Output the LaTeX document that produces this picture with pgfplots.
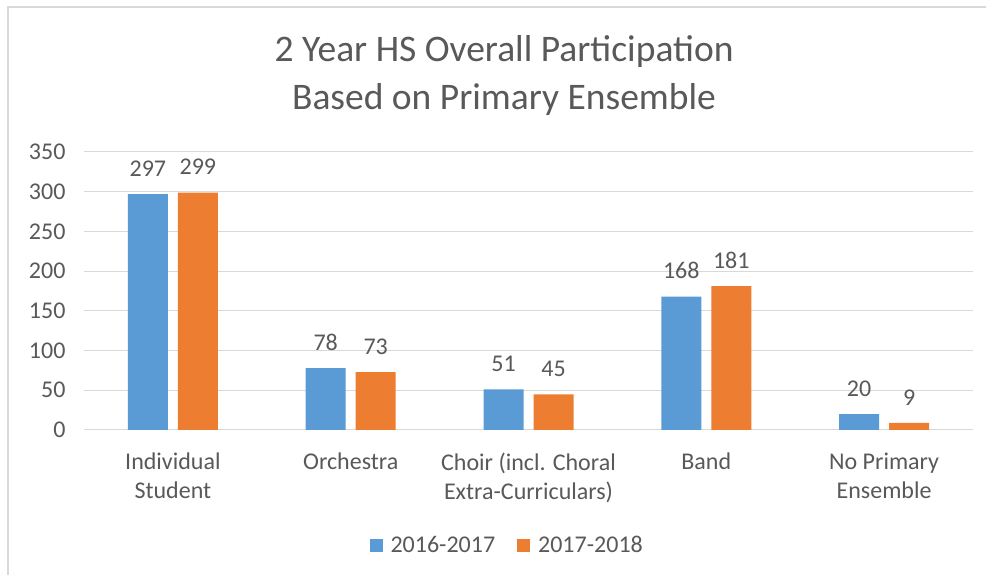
\documentclass[border=0pt]{standalone}
\usepackage{pgfplots}
\pgfplotsset{compat=1.18}
\usepackage{fontspec}
\setmainfont{Carlito}
\definecolor{txt}{HTML}{595959}
\definecolor{grd}{HTML}{D9D9D9}
\definecolor{bblue}{HTML}{5B9BD5}
\definecolor{borange}{HTML}{ED7D31}
\begin{document}
\begin{tikzpicture}[x=1pt,y=1pt]
\fill[white] (-84,-145) rectangle (902,430);
\useasboundingbox (-84,-145) rectangle (902,430);
\draw[grd, line width=1.5pt] (-76,-145) -- (-76,423) -- (902,423);
\node[text=txt, font=\fontsize{37.5}{44}\selectfont] at (420,378) {2 Year HS Overall Participation};
\node[text=txt, font=\fontsize{37.5}{44}\selectfont] at (420,330) {Based on Primary Ensemble};
\begin{axis}[
  at={(0,0)}, anchor=south west,
  scale only axis, width=889pt, height=278pt,
  ybar=10pt, bar width=40pt,
  xmin=-0.5, xmax=4.5, ymin=0, ymax=350,
  xtick=data,
  xticklabels={{Individual\\Student},Orchestra,{Choir (incl. Choral\\Extra-Curriculars)},Band,{No Primary\\Ensemble}},
  ytick={0,50,...,350},
  axis line style={draw=none},
  major tick length=0pt,
  ymajorgrids, grid style={grd, line width=1pt},
  /pgf/number format/assume math mode=true,
  yticklabel style={text=txt, font=\fontsize{24}{28}\selectfont, xshift=-15pt},
  xticklabel style={text=txt, font=\fontsize{24}{29}\selectfont, align=center, yshift=-19pt},
  nodes near coords,
  nodes near coords style={text=txt, font=\fontsize{24}{28}\selectfont, yshift=14pt},
  legend columns=2,
  legend style={at={(0.476,-0.414)}, anchor=center, draw=none, fill=none,
    font=\fontsize{24}{28}\selectfont, text=txt,
    /tikz/every odd column/.append style={column sep=6pt},
    /tikz/every even column/.append style={column sep=20pt}},
  legend image code/.code={\fill[#1] (0pt,-6.5pt) rectangle (13pt,6.5pt);},
]
\addplot[fill=bblue, draw=none] coordinates {(0,297) (1,78) (2,51) (3,168) (4,20)};
\addplot[fill=borange, draw=none] coordinates {(0,299) (1,73) (2,45) (3,181) (4,9)};
\legend{2016-2017,2017-2018}
\end{axis}
\end{tikzpicture}
\end{document}
